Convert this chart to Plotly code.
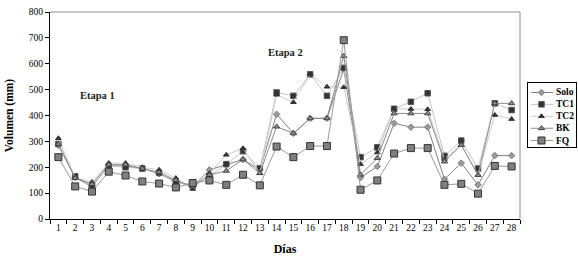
import plotly.graph_objects as go

days = ["1", "2", "3", "4", "5", "6", "7", "8", "9", "10", "11", "12", "13", "14",
        "15", "16", "17", "18", "19", "20", "21", "22", "23", "24", "25", "26", "27", "28"]

solo = [285, 160, 125, 205, 205, 195, 175, 145, 125, 190, 210, 230, 190, 405,
        331, 389, 389, 580, 160, 203, 370, 355, 355, 154, 216, 132, 245, 245]
tc1 = [290, 165, 126, 205, 200, 195, 178, 139, 135, 165, 212, 262, 196, 489,
       476, 559, 476, 584, 239, 277, 426, 453, 486, 244, 303, 195, 447, 421]
tc2 = [312, 160, 143, 216, 216, 200, 190, 158, 116, 177, 248, 273, 177, 480,
       451, 559, 511, 509, 212, 257, 426, 425, 424, 232, 286, 170, 402, 386]
bk = [290, 158, 135, 210, 210, 195, 180, 150, 125, 170, 186, 230, 177, 357,
      331, 389, 389, 630, 171, 235, 408, 408, 408, 222, 286, 170, 447, 447]
fq = [239, 126, 106, 183, 168, 145, 137, 122, 139, 149, 132, 171, 130, 280,
      239, 282, 282, 691, 113, 149, 253, 274, 274, 132, 136, 98, 205, 203]

series_names = ["Solo", "TC1", "TC2", "BK", "FQ"]
y_ticks = [0, 100, 200, 300, 400, 500, 600, 700, 800]

styles = {
    "Solo": dict(line="#808080", symbol="diamond", size=5, fill="#9a9a9a", edge="#808080"),
    "TC1": dict(line="#c4c4c4", symbol="square", size=5.5, fill="#333333", edge="#555555"),
    "TC2": dict(line="#cccccc", symbol="triangle-up", size=5, fill="#333333", edge="#333333"),
    "BK": dict(line="#8a8a8a", symbol="triangle-up", size=5.5, fill="#8c8c8c", edge="#444444"),
    "FQ": dict(line="#9a9a9a", symbol="square", size=7, fill="#808080", edge="#333333"),
}
values = {"Solo": solo, "TC1": tc1, "TC2": tc2, "BK": bk, "FQ": fq}

FONT = "Liberation Serif"
fig = go.Figure()

for name in series_names:
    st = styles[name]
    fig.add_trace(go.Scatter(
        x=days, y=values[name], mode="lines+markers", name=name, showlegend=False,
        line=dict(color=st["line"], width=1),
        marker=dict(symbol=st["symbol"], size=st["size"], color=st["fill"],
                    line=dict(color=st["edge"], width=1)),
        xaxis="x", yaxis="y"))

# legend drawn on a small auxiliary axis (pixel-like units)
leg_y = [92.3, 104.2, 116.2, 128.2, 140.5]
for name, ly in zip(series_names, leg_y):
    st = styles[name]
    fig.add_trace(go.Scatter(x=[531, 553], y=[ly, ly], mode="lines", showlegend=False,
                             line=dict(color=st["line"], width=1), xaxis="x2", yaxis="y2",
                             hoverinfo="skip"))
    fig.add_trace(go.Scatter(x=[541.5], y=[ly], mode="markers", showlegend=False,
                             marker=dict(symbol=st["symbol"], size=st["size"], color=st["fill"],
                                         line=dict(color=st["edge"], width=1)),
                             xaxis="x2", yaxis="y2", hoverinfo="skip"))
    fig.add_annotation(x=554, y=ly, xref="x2", yref="y2", text="<b>%s</b>" % name,
                       showarrow=False, xanchor="left", yanchor="middle",
                       font=dict(family=FONT, size=9.5, color="#000"))

x_dom_end = 470 / 526

fig.update_layout(
    width=578, height=261,
    margin=dict(l=50, r=2, t=11.5, b=41.7, autoexpand=False),
    paper_bgcolor="white", plot_bgcolor="white",
    font=dict(family=FONT, size=9, color="#000"),
    xaxis=dict(domain=[0, x_dom_end], type="category", range=[-0.5, len(days) - 0.5],
               showgrid=False, zeroline=False,
               showline=True, linecolor="#000", linewidth=1, ticks="outside", ticklen=4,
               tickcolor="#000", tickson="boundaries", tickangle=0, automargin=False,
               tickfont=dict(family=FONT, size=9.5),
               title=dict(text="<b>Días</b>", font=dict(family=FONT, size=12), standoff=12),
               fixedrange=True),
    yaxis=dict(range=[0, 800], tickvals=y_ticks, showgrid=False, zeroline=False,
               showline=True, linecolor="#000", linewidth=1, ticks="outside", ticklen=4,
               tickcolor="#000", automargin=False, tickfont=dict(family=FONT, size=9.5),
               title=dict(text="<b>Volumen (mm)</b>", font=dict(family=FONT, size=11.5), standoff=12),
               fixedrange=True),
    xaxis2=dict(domain=[(528 - 50) / 526, 1], range=[528, 576], anchor="y2",
                showgrid=False, zeroline=False, showticklabels=False, ticks="",
                automargin=False,
                showline=True, mirror=True, linecolor="#000", linewidth=1, fixedrange=True),
    yaxis2=dict(domain=[(219.3 - 147) / 207.8, (219.3 - 83) / 207.8], range=[147, 83],
                anchor="x2", showgrid=False, zeroline=False, showticklabels=False, ticks="",
                automargin=False,
                showline=True, mirror=True, linecolor="#000", linewidth=1, fixedrange=True),
    shapes=[
        dict(type="line", xref="paper", yref="paper", x0=0, x1=x_dom_end, y0=1, y1=1,
             line=dict(color="#8c8c8c", width=1)),
        dict(type="line", xref="paper", yref="paper", x0=x_dom_end, x1=x_dom_end, y0=0, y1=1,
             line=dict(color="#8c8c8c", width=1)),
    ],
    annotations=list(fig.layout.annotations) + [
        dict(x=2.35, y=479, xref="x", yref="y", text="<b>Etapa 1</b>", showarrow=False,
             font=dict(family=FONT, size=10.5, color="#222")),
        dict(x=13.55, y=645, xref="x", yref="y", text="<b>Etapa 2</b>", showarrow=False,
             font=dict(family=FONT, size=10.5, color="#222")),
    ],
)

fig.write_html("out.html", config={"displayModeBar": False},
               post_script="document.body.style.margin='0px';document.body.style.overflow='hidden';")
